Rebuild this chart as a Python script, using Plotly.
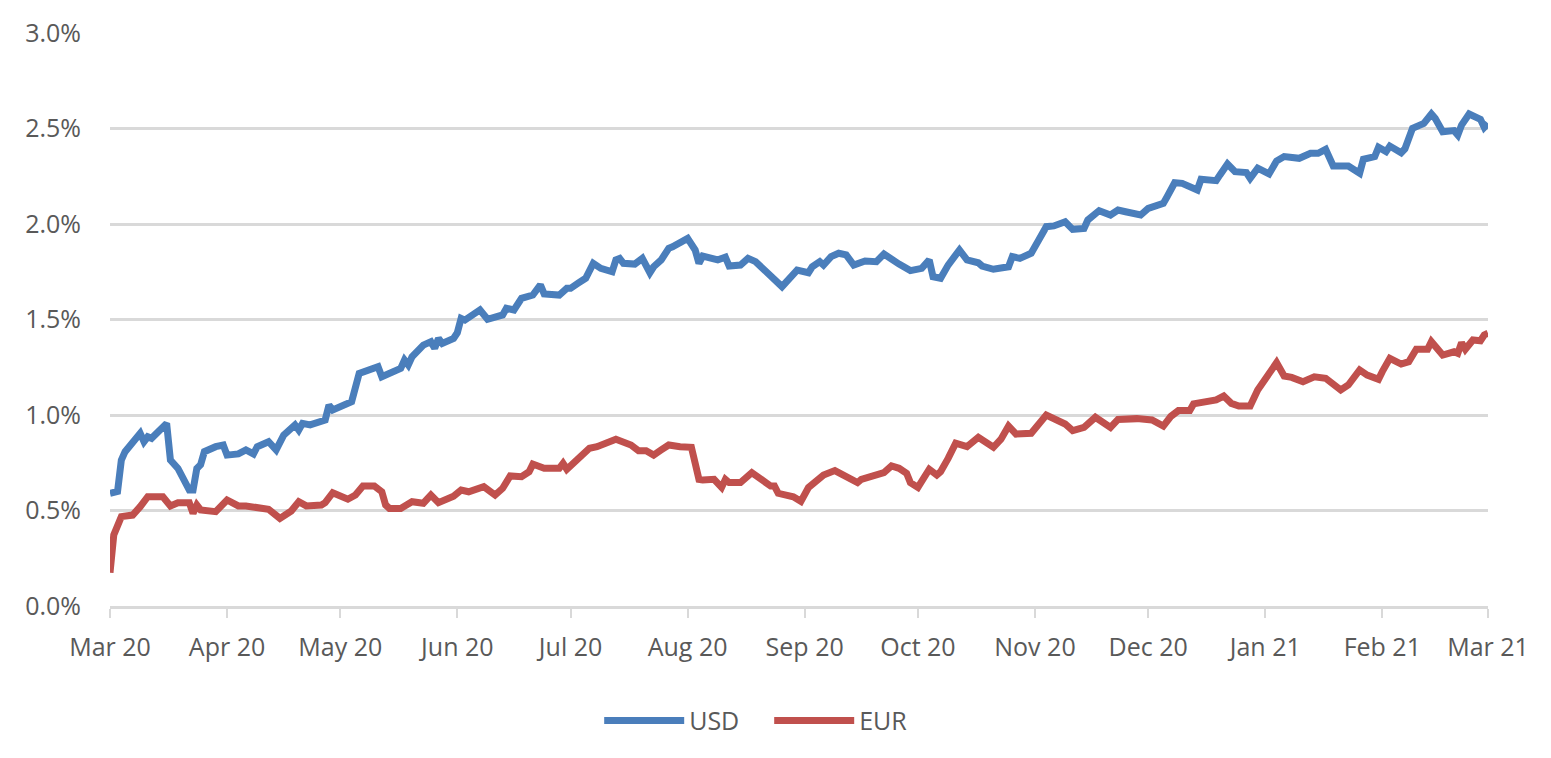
import plotly.graph_objects as go

usd_dates = ["2020-03-01","2020-03-03","2020-03-04","2020-03-05","2020-03-09","2020-03-10","2020-03-11","2020-03-12","2020-03-16","2020-03-17","2020-03-19","2020-03-22","2020-03-23","2020-03-24","2020-03-25","2020-03-26","2020-03-29","2020-03-31",
"2020-04-01","2020-04-04","2020-04-06","2020-04-08","2020-04-09","2020-04-12","2020-04-14","2020-04-16","2020-04-19","2020-04-20","2020-04-21","2020-04-23","2020-04-27","2020-04-28","2020-04-29",
"2020-05-04","2020-05-06","2020-05-08","2020-05-10","2020-05-11","2020-05-12","2020-05-15","2020-05-17","2020-05-18","2020-05-19","2020-05-20","2020-05-23","2020-05-25","2020-05-26","2020-05-27","2020-05-28","2020-05-31",
"2020-06-01","2020-06-02","2020-06-03","2020-06-07","2020-06-09","2020-06-13","2020-06-14","2020-06-16","2020-06-18","2020-06-21","2020-06-23","2020-06-24","2020-06-28","2020-06-30",
"2020-07-01","2020-07-03","2020-07-05","2020-07-07","2020-07-09","2020-07-12","2020-07-13","2020-07-14","2020-07-15","2020-07-18","2020-07-20","2020-07-22","2020-07-23","2020-07-25","2020-07-27","2020-07-28","2020-07-30",
"2020-08-01","2020-08-03","2020-08-04","2020-08-05","2020-08-09","2020-08-11","2020-08-12","2020-08-15","2020-08-17","2020-08-19","2020-08-23","2020-08-26","2020-08-30",
"2020-09-02","2020-09-03","2020-09-05","2020-09-06","2020-09-08","2020-09-10","2020-09-12","2020-09-14","2020-09-17","2020-09-20","2020-09-22","2020-09-26","2020-09-29",
"2020-10-02","2020-10-04","2020-10-05","2020-10-07","2020-10-09","2020-10-11","2020-10-12","2020-10-14","2020-10-17","2020-10-18","2020-10-21","2020-10-25","2020-10-26","2020-10-28","2020-10-31",
"2020-11-02","2020-11-04","2020-11-06","2020-11-09","2020-11-11","2020-11-14","2020-11-15","2020-11-18","2020-11-21","2020-11-23","2020-11-25","2020-11-29",
"2020-12-01","2020-12-05","2020-12-06","2020-12-08","2020-12-10","2020-12-12","2020-12-14","2020-12-15","2020-12-19","2020-12-20","2020-12-22","2020-12-24","2020-12-27","2020-12-28","2020-12-30",
"2021-01-02","2021-01-04","2021-01-06","2021-01-10","2021-01-13","2021-01-15","2021-01-17","2021-01-19","2021-01-23","2021-01-25","2021-01-26","2021-01-27","2021-01-30","2021-01-31",
"2021-02-02","2021-02-03","2021-02-06","2021-02-07","2021-02-09","2021-02-12","2021-02-14","2021-02-15","2021-02-17","2021-02-20","2021-02-21","2021-02-22","2021-02-24","2021-02-27","2021-02-28","2021-03-01"]
usd_values = [0.59,0.60,0.764,0.808,0.904,0.86,0.886,0.878,0.956,0.764,0.72,0.607,0.607,0.72,0.74,0.808,0.834,0.843,
0.79,0.796,0.817,0.796,0.834,0.86,0.817,0.895,0.948,0.921,0.956,0.948,0.974,1.052,1.026,
1.07,1.218,1.236,1.244,1.253,1.20,1.227,1.244,1.288,1.262,1.305,1.366,1.384,1.349,1.401,1.375,1.401,
1.431,1.506,1.497,1.55,1.501,1.524,1.559,1.55,1.611,1.628,1.681,1.634,1.628,1.663,
1.663,1.69,1.716,1.794,1.768,1.75,1.812,1.82,1.794,1.79,1.82,1.745,1.776,1.812,1.873,1.881,1.907,
1.925,1.864,1.794,1.832,1.812,1.826,1.78,1.785,1.82,1.803,1.724,1.672,1.759,
1.745,1.776,1.803,1.785,1.829,1.847,1.838,1.785,1.806,1.803,1.843,1.79,1.756,
1.768,1.812,1.724,1.716,1.785,1.847,1.864,1.812,1.797,1.78,1.763,1.776,1.829,1.82,1.847,
1.916,1.986,1.99,2.012,1.972,1.977,2.021,2.07,2.047,2.073,2.064,2.047,
2.082,2.108,2.143,2.216,2.213,2.195,2.178,2.234,2.227,2.257,2.314,2.274,2.269,2.239,2.292,
2.262,2.33,2.353,2.344,2.37,2.37,2.391,2.304,2.304,2.283,2.266,2.339,2.353,2.402,
2.379,2.408,2.373,2.394,2.501,2.527,2.576,2.553,2.483,2.489,2.466,2.518,2.576,2.548,2.506,2.527]

eur_dates = ["2020-03-01","2020-03-02","2020-03-04","2020-03-07","2020-03-09","2020-03-11","2020-03-15","2020-03-17","2020-03-19","2020-03-22","2020-03-23","2020-03-24","2020-03-25","2020-03-29",
"2020-04-01","2020-04-04","2020-04-06","2020-04-09","2020-04-12","2020-04-15","2020-04-18","2020-04-20","2020-04-22","2020-04-26","2020-04-27","2020-04-29",
"2020-05-03","2020-05-05","2020-05-07","2020-05-10","2020-05-12","2020-05-13","2020-05-14","2020-05-17","2020-05-18","2020-05-20","2020-05-23","2020-05-25","2020-05-27","2020-05-31",
"2020-06-02","2020-06-04","2020-06-08","2020-06-11","2020-06-13","2020-06-15","2020-06-18","2020-06-20","2020-06-21","2020-06-24","2020-06-28","2020-06-29","2020-06-30",
"2020-07-04","2020-07-06","2020-07-08","2020-07-11","2020-07-13","2020-07-17","2020-07-19","2020-07-21","2020-07-23","2020-07-25","2020-07-27","2020-07-30",
"2020-08-02","2020-08-03","2020-08-04","2020-08-05","2020-08-08","2020-08-10","2020-08-11","2020-08-12","2020-08-15","2020-08-18","2020-08-20","2020-08-23","2020-08-24","2020-08-25","2020-08-29","2020-08-31",
"2020-09-02","2020-09-06","2020-09-09","2020-09-15","2020-09-16","2020-09-19","2020-09-22","2020-09-24","2020-09-26","2020-09-28","2020-09-29",
"2020-10-01","2020-10-03","2020-10-04","2020-10-06","2020-10-07","2020-10-09","2020-10-11","2020-10-14","2020-10-17","2020-10-21","2020-10-23","2020-10-25","2020-10-27","2020-10-31",
"2020-11-02","2020-11-04","2020-11-09","2020-11-11","2020-11-14","2020-11-17","2020-11-21","2020-11-23","2020-11-28",
"2020-12-02","2020-12-05","2020-12-07","2020-12-09","2020-12-12","2020-12-13","2020-12-16","2020-12-19","2020-12-21","2020-12-23","2020-12-25","2020-12-28","2020-12-30",
"2021-01-04","2021-01-06","2021-01-08","2021-01-11","2021-01-14","2021-01-17","2021-01-19","2021-01-21","2021-01-23","2021-01-26","2021-01-28","2021-01-31",
"2021-02-01","2021-02-03","2021-02-06","2021-02-08","2021-02-10","2021-02-13","2021-02-14","2021-02-15","2021-02-17","2021-02-20","2021-02-21","2021-02-22","2021-02-23","2021-02-25","2021-02-27","2021-02-28","2021-03-01"]
eur_values = [0.174,0.372,0.468,0.476,0.52,0.572,0.572,0.524,0.541,0.541,0.485,0.529,0.503,0.494,
0.555,0.524,0.524,0.515,0.506,0.459,0.497,0.546,0.524,0.529,0.541,0.593,
0.559,0.581,0.628,0.628,0.598,0.529,0.511,0.511,0.524,0.546,0.538,0.581,0.541,0.575,
0.607,0.598,0.625,0.581,0.616,0.681,0.677,0.703,0.743,0.721,0.721,0.747,0.716,
0.782,0.826,0.834,0.86,0.873,0.843,0.813,0.813,0.79,0.817,0.843,0.834,
0.831,0.747,0.663,0.66,0.663,0.621,0.663,0.646,0.646,0.698,0.669,0.628,0.628,0.59,0.572,0.548,
0.62,0.686,0.709,0.646,0.663,0.677,0.698,0.733,0.721,0.695,0.646,
0.621,0.686,0.716,0.686,0.703,0.773,0.852,0.834,0.883,0.831,0.873,0.942,0.90,0.904,
0.948,1.0,0.953,0.918,0.935,0.988,0.935,0.977,0.981,
0.974,0.942,0.993,1.023,1.023,1.058,1.07,1.079,1.099,1.061,1.047,1.047,1.131,
1.274,1.204,1.197,1.174,1.20,1.192,1.166,1.131,1.157,1.236,1.209,1.187,
1.227,1.297,1.267,1.279,1.344,1.344,1.384,1.361,1.314,1.331,1.323,1.379,1.344,1.393,1.389,1.419,1.428]

month_ticks = ["2020-03-01","2020-04-01","2020-05-01","2020-06-01","2020-07-01","2020-08-01","2020-09-01",
               "2020-10-01","2020-11-01","2020-12-01","2021-01-01","2021-02-01","2021-03-01"]
month_labels = ["Mar 20","Apr 20","May 20","Jun 20","Jul 20","Aug 20","Sep 20",
                "Oct 20","Nov 20","Dec 20","Jan 21","Feb 21","Mar 21"]
y_ticks = [0.0, 0.5, 1.0, 1.5, 2.0, 2.5, 3.0]
y_labels = ["0.0%", "0.5%", "1.0%", "1.5%", "2.0%", "2.5%", "3.0%"]

fig = go.Figure()
fig.add_trace(go.Scatter(x=usd_dates, y=usd_values, name="USD", mode="lines",
                         line=dict(color="#4A7EBB", width=7)))
fig.add_trace(go.Scatter(x=eur_dates, y=eur_values, name="EUR", mode="lines",
                         line=dict(color="#C0504D", width=7)))

fig.update_layout(
    width=1551, height=758,
    margin=dict(l=102, r=71, t=25, b=160, autoexpand=False),
    paper_bgcolor="white", plot_bgcolor="white",
    font=dict(family="Open Sans, sans-serif", size=25, color="#595959"),
    showlegend=True,
    legend=dict(orientation="h", x=0.355, xanchor="left", y=-0.16, yanchor="top",
                font=dict(size=25, color="#595959"), itemwidth=80,
                entrywidth=75, entrywidthmode="pixels"),
)
fig.update_xaxes(
    type="date", range=["2020-03-01", "2021-03-01"], automargin=False,
    tickvals=month_ticks, ticktext=month_labels,
    showgrid=False, showline=True, linecolor="#D9D9D9", linewidth=3,
    ticks="outside", ticklen=9, tickwidth=2, tickcolor="#D9D9D9",
    ticklabelstandoff=8,
    tickfont=dict(size=25, color="#595959"), zeroline=False,
)
fig.update_yaxes(
    range=[0, 3], tickvals=y_ticks, ticktext=y_labels, automargin=False,
    showgrid=True, gridcolor="#D9D9D9", gridwidth=3, zeroline=False,
    showline=False, ticks="", ticklabelstandoff=28,
    tickfont=dict(size=25, color="#595959"),
)

fig.write_html("out.html")
